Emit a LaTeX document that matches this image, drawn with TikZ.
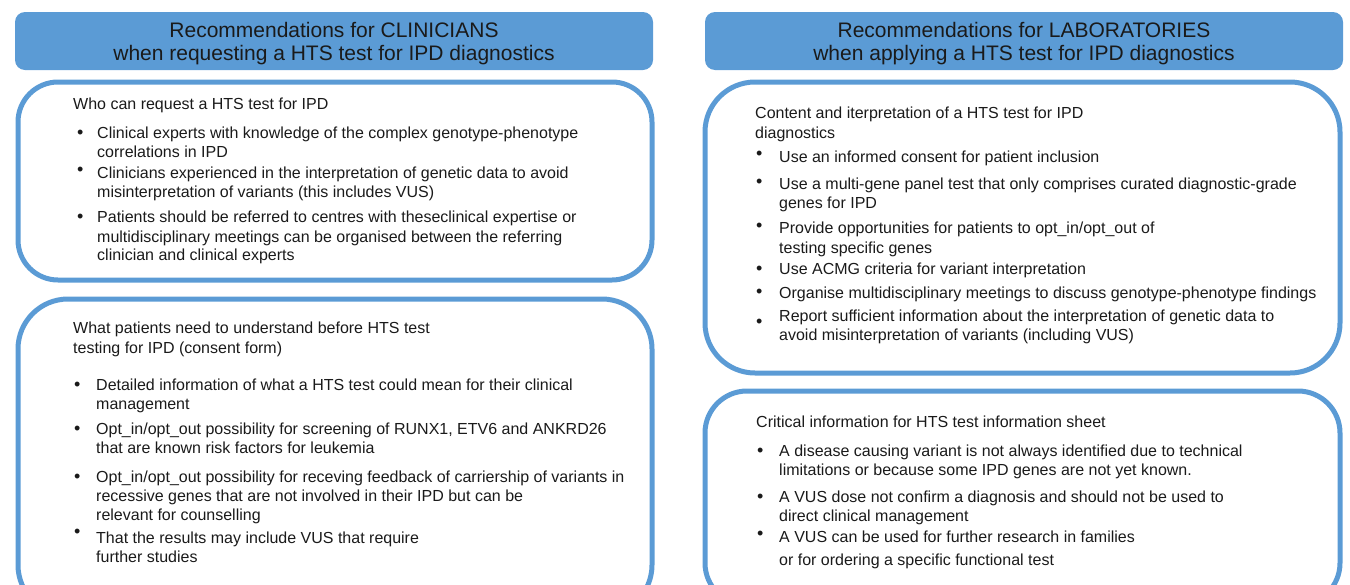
\documentclass[tikz,border=0pt]{standalone}
\usepackage{fontspec}
\setmainfont{Liberation Sans}
\definecolor{hblue}{HTML}{5B9BD5}
\definecolor{ink}{HTML}{1A1A1A}
\begin{document}
\begin{tikzpicture}[x=1pt,y=-1pt,
  hdr/.style={fill=hblue, rounded corners=10pt, minimum width=638pt, minimum height=58pt,
    align=center, inner sep=0pt, font=\fontsize{21}{23}\selectfont, text=ink},
  panel/.style={draw=hblue, line width=5pt, rounded corners=40pt},
  txt/.style={anchor=base west, inner sep=0pt, font=\fontsize{16}{19}\selectfont, text=ink},
  bul/.style={anchor=base west, inner sep=0pt, font=\fontsize{18}{19}\selectfont, text=ink}]
\useasboundingbox (0,0) rectangle (1350,584);
\begin{scope}
\clip (0,0) rectangle (1350,584);
% headers
\node[hdr] (hl) at (334,41) {};
\node[hdr] (hr) at (1024,41) {};
\node[align=center, font=\fontsize{21}{23}\selectfont, text=ink] (hlt) at (334,43.5) {Recommendations for CLINICIANS\\when requesting a HTS test for IPD diagnostics};
\node[align=center, font=\fontsize{21}{23}\selectfont, text=ink] (hrt) at (1024,43.5) {Recommendations for LABORATORIES\\when applying a HTS test for IPD diagnostics};
% panels
\draw[panel] (18,82) rectangle (652,280);
\draw[panel, rounded corners=50pt] (18,299) rectangle (652,615);
\draw[panel, rounded corners=50pt] (705,82) rectangle (1340,373);
\draw[panel, rounded corners=42pt] (705,391) rectangle (1340,605);
\end{scope}
% ---- left panel 1
\node[txt] (a0) at (73,109) {Who can request a HTS test for IPD};
\node[bul] (ab1) at (77,138) {\textbullet};
\node[txt] (a1) at (97,138) {Clinical experts with knowledge of the complex genotype-phenotype};
\node[txt] (a1b) at (97,157) {correlations in IPD};
\node[bul] (ab2) at (77,175) {\textbullet};
\node[txt] (a2) at (97,178) {Clinicians experienced in the interpretation of genetic data to avoid};
\node[txt] (a2b) at (97,197) {misinterpretation of variants (this includes VUS)};
\node[bul] (ab3) at (77,222) {\textbullet};
\node[txt] (a3) at (97,222) {Patients should be referred to centres with theseclinical expertise or};
\node[txt] (a3b) at (97,242) {multidisciplinary meetings can be organised between the referring};
\node[txt] (a3c) at (97,260) {clinician and clinical experts};
% ---- left panel 2
\node[txt] (b0) at (73,333) {What patients need to understand before HTS test};
\node[txt] (b0b) at (73,353) {testing for IPD (consent form)};
\node[bul] (bb1) at (74,390) {\textbullet};
\node[txt] (b1) at (96,390) {Detailed information of what a HTS test could mean for their clinical};
\node[txt] (b1b) at (96,409) {management};
\node[bul] (bb2) at (74,434) {\textbullet};
\node[txt] (b2) at (96,434) {Opt\_in/opt\_out possibility for screening of RUNX1, ETV6 and ANKRD26};
\node[txt] (b2b) at (96,453) {that are known risk factors for leukemia};
\node[bul] (bb3) at (74,482) {\textbullet};
\node[txt] (b3) at (96,482) {Opt\_in/opt\_out possibility for receving feedback of carriership of variants in};
\node[txt] (b3b) at (96,501) {recessive genes that are not involved in their IPD but can be};
\node[txt] (b3c) at (96,520) {relevant for counselling};
\node[bul] (bb4) at (74,537) {\textbullet};
\node[txt] (b4) at (96,543) {That the results may include VUS that require};
\node[txt] (b4b) at (96,562) {further studies};
% ---- right panel 1
\node[txt] (c0) at (755,118) {Content and iterpretation of a HTS test for IPD};
\node[txt] (c0b) at (755,138) {diagnostics};
\node[bul] (cb1) at (756,159) {\textbullet};
\node[txt] (c1) at (779,162) {Use an informed consent for patient inclusion};
\node[bul] (cb2) at (756,187) {\textbullet};
\node[txt] (c2) at (779,189) {Use a multi-gene panel test that only comprises curated diagnostic-grade};
\node[txt] (c2b) at (779,208) {genes for IPD};
\node[bul] (cb3) at (756,231) {\textbullet};
\node[txt] (c3) at (779,233) {Provide opportunities for patients to opt\_in/opt\_out of};
\node[txt] (c3b) at (779,253) {testing specific genes};
\node[bul] (cb4) at (756,274) {\textbullet};
\node[txt] (c4) at (779,274) {Use ACMG criteria for variant interpretation};
\node[bul] (cb5) at (756,297) {\textbullet};
\node[txt] (c5) at (779,298) {Organise multidisciplinary meetings to discuss genotype-phenotype findings};
\node[bul] (cb6) at (756,327) {\textbullet};
\node[txt] (c6) at (779,321) {Report sufficient information about the interpretation of genetic data to};
\node[txt] (c6b) at (779,340) {avoid misinterpretation of variants (including VUS)};
% ---- right panel 2
\node[txt] (d0) at (756,427) {Critical information for HTS test information sheet};
\node[bul] (db1) at (757,456) {\textbullet};
\node[txt] (d1) at (779,456) {A disease causing variant is not always identified due to technical};
\node[txt] (d1b) at (779,475) {limitations or because some IPD genes are not yet known.};
\node[bul] (db2) at (757,502) {\textbullet};
\node[txt] (d2) at (779,502) {A VUS dose not confirm a diagnosis and should not be used to};
\node[txt] (d2b) at (779,521) {direct clinical management};
\node[bul] (db3) at (757,539) {\textbullet};
\node[txt] (d3) at (779,542) {A VUS can be used for further research in families};
\node[txt] (d3b) at (779,565) {or for ordering a specific functional test};
\end{tikzpicture}
\end{document}
